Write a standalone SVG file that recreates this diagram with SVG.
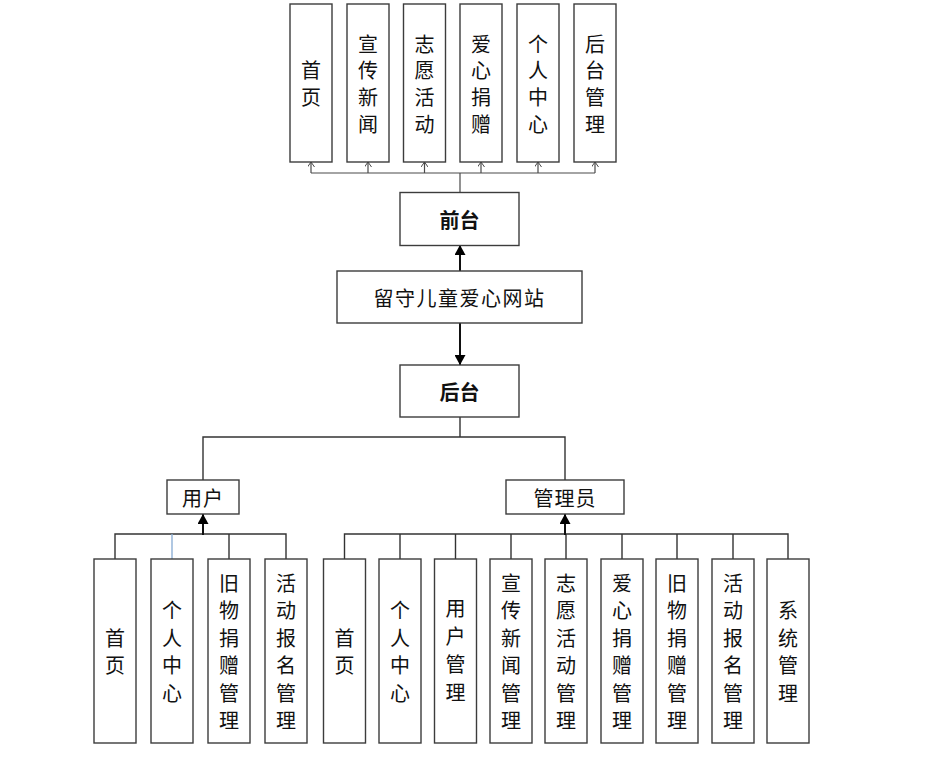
<svg xmlns="http://www.w3.org/2000/svg" width="950" height="769" viewBox="0 0 950 769">
<style>
.box{fill:#fff;stroke:#3c3c3c;stroke-width:1.4}
.t{font-family:"Noto Sans CJK SC","Noto Sans",sans-serif;font-size:20px;fill:#111;text-anchor:middle;dominant-baseline:central}
.b{font-weight:bold}
.thin{fill:none;stroke:#4a4a4a;stroke-width:1.2}
.mid{fill:none;stroke:#111;stroke-width:2}
.tree{fill:none;stroke:#333;stroke-width:1.4}
.blue{fill:none;stroke:#8fb0d6;stroke-width:1.4}
</style>
<defs>
<marker id="open" viewBox="0 0 5 7" refX="5" refY="3.5" markerWidth="5" markerHeight="7" markerUnits="userSpaceOnUse" orient="auto">
<path d="M0,0 L5,3.5 L0,7" fill="none" stroke="#4a4a4a" stroke-width="1"/>
</marker>
<marker id="fill" viewBox="0 0 10 11" refX="10" refY="5.5" markerWidth="10" markerHeight="11" markerUnits="userSpaceOnUse" orient="auto">
<path d="M0,0 L10,5.5 L0,11 Z" fill="#000"/>
</marker>
</defs>

<g id="connectors">
<path class="thin" d="M460,192 V173 M311,173 H595"/>
<path class="thin" marker-end="url(#open)" d="M311,173 V162"/>
<path class="thin" marker-end="url(#open)" d="M368,173 V162"/>
<path class="thin" marker-end="url(#open)" d="M424.5,173 V162"/>
<path class="thin" marker-end="url(#open)" d="M481,173 V162"/>
<path class="thin" marker-end="url(#open)" d="M538,173 V162"/>
<path class="thin" marker-end="url(#open)" d="M595,173 V162"/>
<path class="mid" marker-end="url(#fill)" d="M460,271 V245"/>
<path class="mid" marker-end="url(#fill)" d="M460,323 V365"/>
<path class="tree" d="M460,417 V437 M203,480 V437 H565 V480"/>
<path class="tree" d="M115,559 V534 H286 V559 M229,534 V559"/>
<path class="blue" d="M172,534 V559"/>
<path class="mid" marker-end="url(#fill)" d="M203,535 V514"/>
<path class="tree" d="M344.5,559 V534 H788 V559 M400,534 V559 M455.5,534 V559 M511,534 V559 M566,534 V559 M622,534 V559 M677,534 V559 M733,534 V559"/>
<path class="mid" marker-end="url(#fill)" d="M565,535 V514"/>
</g>

<g id="n-home-top"><rect class="box" x="290" y="4" width="42" height="158"/><text class="t" x="311 311" y="69.6 96.4">首页</text></g>
<g id="n-news-top"><rect class="box" x="347" y="4" width="42" height="158"/><text class="t" x="368 368 368 368" y="43 69.6 96.4 123">宣传新闻</text></g>
<g id="n-vol-top"><rect class="box" x="403.5" y="4" width="42" height="158"/><text class="t" x="424.5 424.5 424.5 424.5" y="43 69.6 96.4 123">志愿活动</text></g>
<g id="n-don-top"><rect class="box" x="460" y="4" width="42" height="158"/><text class="t" x="481 481 481 481" y="43 69.6 96.4 123">爱心捐赠</text></g>
<g id="n-me-top"><rect class="box" x="517" y="4" width="42" height="158"/><text class="t" x="538 538 538 538" y="43 69.6 96.4 123">个人中心</text></g>
<g id="n-admin-top"><rect class="box" x="574" y="4" width="42" height="158"/><text class="t" x="595 595 595 595" y="43 69.6 96.4 123">后台管理</text></g>

<g id="n-front"><rect class="box" x="400" y="192.5" width="119" height="53"/><text class="t b" x="459.5" y="219">前台</text></g>
<g id="n-site"><rect class="box" x="337" y="271" width="245" height="52"/><text class="t" x="459.5" y="297" letter-spacing="1.5">留守儿童爱心网站</text></g>
<g id="n-back"><rect class="box" x="400" y="365" width="119" height="52"/><text class="t b" x="459.5" y="391">后台</text></g>
<g id="n-user"><rect class="box" x="167" y="480" width="72" height="34"/><text class="t" x="203" y="497" letter-spacing="1">用户</text></g>
<g id="n-manager"><rect class="box" x="506" y="480" width="118" height="34"/><text class="t" x="565" y="497" letter-spacing="1">管理员</text></g>

<g id="u-home"><rect class="box" x="94" y="559" width="42" height="184"/><text class="t" x="115 115" y="637.25 664.75">首页</text></g>
<g id="u-me"><rect class="box" x="151" y="559" width="42" height="184"/><text class="t" x="172 172 172 172" y="609.75 637.25 664.75 692.25">个人中心</text></g>
<g id="u-old"><rect class="box" x="208" y="559" width="42" height="184"/><text class="t" x="229 229 229 229 229 229" y="582.25 609.75 637.25 664.75 692.25 719.75">旧物捐赠管理</text></g>
<g id="u-signup"><rect class="box" x="265" y="559" width="42" height="184"/><text class="t" x="286 286 286 286 286 286" y="582.25 609.75 637.25 664.75 692.25 719.75">活动报名管理</text></g>

<g id="a-home"><rect class="box" x="323.5" y="559" width="42" height="184"/><text class="t" x="344.5 344.5" y="637.25 664.75">首页</text></g>
<g id="a-me"><rect class="box" x="379" y="559" width="42" height="184"/><text class="t" x="400 400 400 400" y="609.75 637.25 664.75 692.25">个人中心</text></g>
<g id="a-user"><rect class="box" x="434.5" y="559" width="42" height="184"/><text class="t" x="455.5 455.5 455.5 455.5" y="607 635 663 691">用户管理</text></g>
<g id="a-news"><rect class="box" x="490" y="559" width="42" height="184"/><text class="t" x="511 511 511 511 511 511" y="582.25 609.75 637.25 664.75 692.25 719.75">宣传新闻管理</text></g>
<g id="a-vol"><rect class="box" x="545" y="559" width="42" height="184"/><text class="t" x="566 566 566 566 566 566" y="582.25 609.75 637.25 664.75 692.25 719.75">志愿活动管理</text></g>
<g id="a-don"><rect class="box" x="601" y="559" width="42" height="184"/><text class="t" x="622 622 622 622 622 622" y="582.25 609.75 637.25 664.75 692.25 719.75">爱心捐赠管理</text></g>
<g id="a-old"><rect class="box" x="656" y="559" width="42" height="184"/><text class="t" x="677 677 677 677 677 677" y="582.25 609.75 637.25 664.75 692.25 719.75">旧物捐赠管理</text></g>
<g id="a-signup"><rect class="box" x="712" y="559" width="42" height="184"/><text class="t" x="733 733 733 733 733 733" y="582.25 609.75 637.25 664.75 692.25 719.75">活动报名管理</text></g>
<g id="a-sys"><rect class="box" x="767" y="559" width="42" height="184"/><text class="t" x="788 788 788 788" y="609.75 637.25 664.75 692.25">系统管理</text></g>
</svg>
